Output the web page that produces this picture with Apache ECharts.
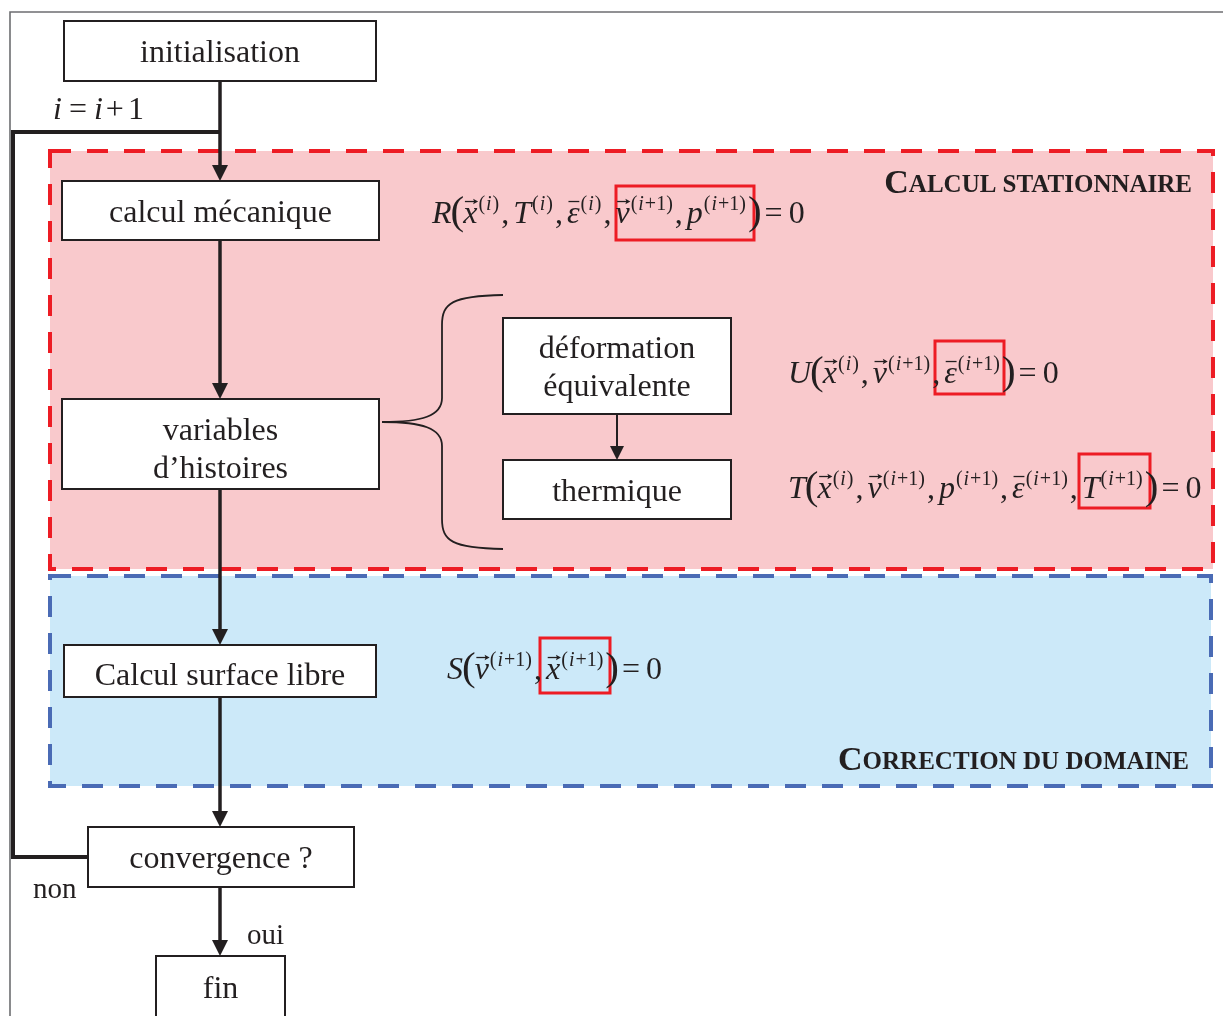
<!DOCTYPE html>
<html><head><meta charset="utf-8">
<script src="https://cdn.jsdelivr.net/npm/echarts@6/dist/echarts.min.js"></script>
<style>html,body{margin:0;padding:0;background:#fff}#c{width:1223px;height:1016px}</style>
</head><body><div id="c"></div>
<script>
// ---------- diagram data (coordinates in the 1223 x 1016 drawing space) ----------
const boxLabels = ['initialisation', 'calcul mécanique', 'variables\nd’histoires', 'déformation\néquivalente',
                   'thermique', 'Calcul surface libre', 'convergence ?', 'fin'];
const boxLeft   = [64, 62, 62, 503, 503, 64, 88, 156];
const boxTop    = [21, 181, 399, 318, 460, 645, 827, 956];
const boxRight  = [376, 379, 379, 731, 731, 376, 354, 285];
const boxBottom = [81, 240, 489, 414, 519, 697, 887, 1018];
const boxLabelShift = [3, 3, 7, 3, 3, 6, 3, 3];

const arrowX    = [220, 220, 220, 220, 220, 617];
const arrowFrom = [81, 240, 489, 697, 887, 414];
const arrowTo   = [181, 399, 645, 827, 956, 460];

const loopX = [220, 13, 13, 88];
const loopY = [132, 132, 857, 857];

const frameX = [1223, 10, 10];
const frameY = [12, 12, 1016];

const regionLeft   = [50, 50];
const regionTop    = [151, 576];
const regionRight  = [1213, 1211];
const regionBottom = [569, 786];

const titleText   = [['C', 'ALCUL STATIONNAIRE'], ['C', 'ORRECTION DU DOMAINE']];
const titleRightX = [1192, 1189];
const titleBase   = [192, 769];

const hlLeft   = [616, 935, 1079, 540];
const hlTop    = [186, 341, 454, 638];
const hlRight  = [754, 1004, 1150, 610];
const hlBottom = [240, 394, 508, 693];

// brace: tip x, tip y, spine x, top y, bottom y, end x
const brace = [382, 422, 442, 295, 549, 503];

const plainLabels = ['non', 'oui'];
const plainX = [33, 247];
const plainBase = [897, 943];

// equations: function letter, then arguments [base letter, accent, superscript]
const eqX = [432, 788, 788, 447];
const eqBase = [222, 382, 497, 678];
const eqParts = [
  ['R', [['x', 'vec', '(i)'], ['T', '', '(i)'], ['ε', 'bar', '(i)'], ['v', 'vec', '(i+1)'], ['p', '', '(i+1)']]],
  ['U', [['x', 'vec', '(i)'], ['v', 'vec', '(i+1)'], ['ε', 'bar', '(i+1)']]],
  ['T', [['x', 'vec', '(i)'], ['v', 'vec', '(i+1)'], ['p', '', '(i+1)'], ['ε', 'bar', '(i+1)'], ['T', '', '(i+1)']]],
  ['S', [['v', 'vec', '(i+1)'], ['x', 'vec', '(i+1)']]]
];
const iterX = 53, iterBase = 118;

// ---------- styles ----------
const serif = "'Liberation Serif', 'Times New Roman', serif";
const ink = '#231f20';
const tokenStyle = {
  v:  {italic: true, size: 32, rise: 0},
  c:  {size: 32, rise: 0},
  P:  {size: 41, rise: -1},
  sI: {italic: true, size: 20, rise: 12},
  sU: {size: 20, rise: 12},
  t1: {bold: true, size: 34, rise: 0},
  t2: {bold: true, size: 25, rise: 0},
  n:  {size: 29, rise: 0}
};
const MID = 0.24; // baseline offset below the canvas "middle" line (em fraction)
const mctx = document.createElement('canvas').getContext('2d');
const fontOf = st => (st.italic ? 'italic ' : '') + (st.bold ? 'bold ' : '') + st.size + 'px ' + serif;
const widthOf = (t, st) => { mctx.font = fontOf(st); return mctx.measureText(t).width; };

function supTok(s) {
  const parts = s.split(/(i)/).filter(Boolean);
  return parts.map((p, j) => ({t: p, k: p === 'i' ? 'sI' : 'sU', g: j === parts.length - 1 ? 2 : 1}));
}
function eqTokens([f, args]) {
  const out = [{t: f, k: 'v', g: -1}, {t: '(', k: 'P', g: -1}];
  args.forEach(([b, acc, s], j) => {
    if (j) out.push({t: ',', k: 'c', g: 4});
    out.push({t: b, k: 'v', acc: acc, g: 1});
    out.push(...supTok(s));
  });
  out.push({t: ')', k: 'P', g: 3}, {t: '=', k: 'c', g: 6}, {t: '0', k: 'c', g: 0});
  return out;
}
const iterTokens = [{t: 'i', k: 'v', g: 7}, {t: '=', k: 'c', g: 7}, {t: 'i', k: 'v', g: 3},
                    {t: '+', k: 'c', g: 4}, {t: '1', k: 'c', g: 0}];

// lays tokens out from pixel point (x, baseline); align 'left' or 'right'
function tokenGroup(tokens, x, base, align) {
  const ws = tokens.map(tk => widthOf(tk.t, tokenStyle[tk.k]));
  const total = ws.reduce((s, w, i) => s + w + (i < ws.length - 1 ? tokens[i].g : 0), 0);
  let cx = align === 'right' ? x - total : x;
  const children = [];
  tokens.forEach((tk, i) => {
    const st = tokenStyle[tk.k], w = ws[i], b = base - st.rise;
    children.push({type: 'text', x: cx, y: b - MID * st.size,
      style: {text: tk.t, fontFamily: serif, fontSize: st.size, fontStyle: st.italic ? 'italic' : 'normal',
              fontWeight: st.bold ? 'bold' : 'normal', fill: ink, align: 'left', verticalAlign: 'middle'}});
    if (tk.acc) {
      const ay = b - 0.64 * st.size, x1 = cx + 0.12 * w, x2 = cx + w * 0.98;
      children.push({type: 'line', shape: {x1: x1, y1: ay, x2: tk.acc === 'vec' ? x2 - 2 : x2, y2: ay},
                     style: {stroke: ink, lineWidth: 1.3}});
      if (tk.acc === 'vec') children.push({type: 'polygon',
        shape: {points: [[x2 + 1, ay], [x2 - 4, ay - 2.8], [x2 - 3, ay], [x2 - 4, ay + 2.8]]}, style: {fill: ink}});
    }
    cx += w + tk.g;
  });
  return {type: 'group', children: children};
}

function rectOf(api) {
  const a = api.coord([api.value(0), api.value(1)]);
  const b = api.coord([api.value(2), api.value(3)]);
  return {x: Math.min(a[0], b[0]), y: Math.min(a[1], b[1]),
          width: Math.abs(b[0] - a[0]), height: Math.abs(b[1] - a[1])};
}
const zip4 = (a, b, c, d) => a.map((v, i) => [v, b[i], c[i], d[i]]);
const pt = api => api.coord([api.value(0), api.value(1)]);

const chart = echarts.init(document.getElementById('c'));
chart.setOption({
  animation: false,
  grid: {left: 0, right: 0, top: 0, bottom: 0},
  xAxis: {type: 'value', min: 0, max: 1223, show: false},
  yAxis: {type: 'value', min: 0, max: 1016, inverse: true, show: false},
  series: [
    { // dashed regions
      type: 'custom', z: 1, silent: true,
      data: zip4(regionLeft, regionTop, regionRight, regionBottom),
      renderItem: (params, api) => ({
        type: 'rect', shape: rectOf(api),
        style: {fill: ['#f9c9cc', '#cce9f9'][params.dataIndex],
                stroke: ['#ed1c24', '#4a6bb5'][params.dataIndex],
                lineWidth: 4, lineDash: [21, 16]}
      })
    },
    { // region titles (small caps)
      type: 'custom', z: 7, silent: true,
      data: titleRightX.map((x, i) => [x, titleBase[i]]),
      renderItem: (params, api) => {
        const p = pt(api), t = titleText[params.dataIndex];
        return tokenGroup([{t: t[0], k: 't1', g: 0}, {t: t[1], k: 't2', g: 0}], p[0], p[1], 'right');
      }
    },
    { // outer frame
      type: 'lines', coordinateSystem: 'cartesian2d', polyline: true, z: 2, silent: true,
      lineStyle: {color: '#6d6e71', width: 1.6, opacity: 1},
      data: [{coords: frameX.map((x, i) => [x, frameY[i]])}]
    },
    { // iteration loop
      type: 'lines', coordinateSystem: 'cartesian2d', polyline: true, z: 3, silent: true,
      lineStyle: {color: ink, width: 4, opacity: 1},
      data: [{coords: loopX.map((x, i) => [x, loopY[i]])}]
    },
    { // arrows
      type: 'custom', z: 4, silent: true,
      data: arrowX.map((x, i) => [x, arrowFrom[i], x, arrowTo[i]]),
      renderItem: (params, api) => {
        const a = api.coord([api.value(0), api.value(1)]);
        const b = api.coord([api.value(2), api.value(3)]);
        const small = params.dataIndex === 5;
        const head = small ? 14 : 16, half = small ? 7 : 8, w = small ? 2 : 3.5;
        const len = Math.hypot(b[0] - a[0], b[1] - a[1]);
        const dx = (b[0] - a[0]) / len, dy = (b[1] - a[1]) / len;
        const bx = b[0] - dx * head, by = b[1] - dy * head;
        return {type: 'group', children: [
          {type: 'line', shape: {x1: a[0], y1: a[1], x2: bx, y2: by}, style: {stroke: ink, lineWidth: w}},
          {type: 'polygon', shape: {points: [[b[0], b[1]], [bx - dy * half, by + dx * half], [bx + dy * half, by - dx * half]]},
           style: {fill: ink}}
        ]};
      }
    },
    { // brace
      type: 'custom', z: 4, silent: true,
      data: [brace],
      renderItem: (params, api) => {
        const P = (x, y) => api.coord([x, y]);
        const [tx, ty, sx, top, bot, ex] = [0, 1, 2, 3, 4, 5].map(i => api.value(i));
        const st = {stroke: ink, lineWidth: 1.8, fill: null};
        const bz = (p0, c1, c2, p1) => ({type: 'bezierCurve', shape: {x1: p0[0], y1: p0[1], cpx1: c1[0], cpy1: c1[1], cpx2: c2[0], cpy2: c2[1], x2: p1[0], y2: p1[1]}, style: st});
        const ln = (p0, p1) => ({type: 'line', shape: {x1: p0[0], y1: p0[1], x2: p1[0], y2: p1[1]}, style: st});
        return {type: 'group', children: [
          bz(P(ex, top), P(sx + 10, top + 1), P(sx, top + 8), P(sx, top + 30)),
          ln(P(sx, top + 30), P(sx, ty - 24)),
          bz(P(sx, ty - 24), P(sx, ty - 6), P(sx - 20, ty), P(tx, ty)),
          bz(P(tx, ty), P(sx - 20, ty), P(sx, ty + 6), P(sx, ty + 24)),
          ln(P(sx, ty + 24), P(sx, bot - 30)),
          bz(P(sx, bot - 30), P(sx, bot - 8), P(sx + 10, bot - 1), P(ex, bot))
        ]};
      }
    },
    { // boxes
      type: 'custom', z: 5, silent: true,
      data: zip4(boxLeft, boxTop, boxRight, boxBottom),
      renderItem: (params, api) => {
        const r = rectOf(api);
        return {type: 'group', children: [
          {type: 'rect', shape: r, style: {fill: '#ffffff', stroke: ink, lineWidth: 2}},
          {type: 'text', x: r.x + r.width / 2, y: r.y + r.height / 2 + boxLabelShift[params.dataIndex],
           style: {text: boxLabels[params.dataIndex], fontFamily: serif, fontSize: 32, lineHeight: 38,
                   fill: ink, align: 'center', verticalAlign: 'middle'}}
        ]};
      }
    },
    { // highlight frames
      type: 'custom', z: 6, silent: true,
      data: zip4(hlLeft, hlTop, hlRight, hlBottom),
      renderItem: (params, api) => ({type: 'rect', shape: rectOf(api), style: {fill: null, stroke: '#ed1c24', lineWidth: 3}})
    },
    { // equations
      type: 'custom', z: 7, silent: true,
      data: eqX.map((x, i) => [x, eqBase[i]]),
      renderItem: (params, api) => {
        const p = pt(api);
        return tokenGroup(eqTokens(eqParts[params.dataIndex]), p[0], p[1], 'left');
      }
    },
    { // i = i + 1
      type: 'custom', z: 7, silent: true,
      data: [[iterX, iterBase]],
      renderItem: (params, api) => { const p = pt(api); return tokenGroup(iterTokens, p[0], p[1], 'left'); }
    },
    { // non / oui
      type: 'custom', z: 7, silent: true,
      data: plainX.map((x, i) => [x, plainBase[i]]),
      renderItem: (params, api) => {
        const p = pt(api);
        return tokenGroup([{t: plainLabels[params.dataIndex], k: 'n', g: 0}], p[0], p[1], 'left');
      }
    }
  ]
});
</script></body></html>
